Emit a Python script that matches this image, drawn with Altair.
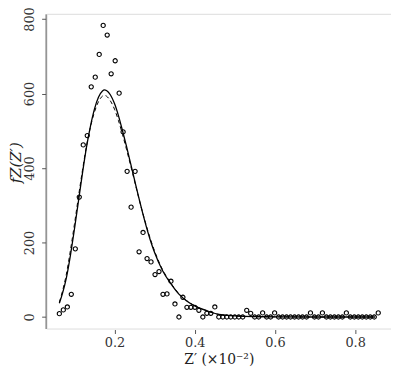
import altair as alt
import pandas as pd

# Observed (binned) values
z_obs = [0.0625, 0.0724, 0.0824, 0.0923, 0.1023, 0.1122, 0.1221, 0.1321, 0.1420, 0.1520,
         0.1619, 0.1718, 0.1818, 0.1917, 0.2017, 0.2116, 0.2215, 0.2315, 0.2414, 0.2514,
         0.2613, 0.2712, 0.2812, 0.2911, 0.3011, 0.3110, 0.3209, 0.3309, 0.3408, 0.3508,
         0.3607, 0.3706, 0.3806, 0.3905, 0.4005, 0.4104, 0.4203, 0.4303, 0.4402, 0.4502,
         0.4601, 0.4700, 0.4800, 0.4899, 0.4999, 0.5098, 0.5197, 0.5297, 0.5396, 0.5496,
         0.5595, 0.5694, 0.5794, 0.5893, 0.5993, 0.6092, 0.6191, 0.6291, 0.6390, 0.6490,
         0.6589, 0.6688, 0.6788, 0.6887, 0.6987, 0.7086, 0.7185, 0.7285, 0.7384, 0.7484,
         0.7583, 0.7682, 0.7782, 0.7881, 0.7981, 0.8080, 0.8179, 0.8279, 0.8378, 0.8478,
         0.8577]
f_obs = [9, 19, 27, 61, 183, 322, 462, 487, 618, 644,
         705, 783, 757, 653, 688, 601, 497, 391, 295, 391,
         175, 227, 157, 148, 114, 122, 61, 62, 96, 35,
         0, 53, 26, 26, 26, 18, 0, 10, 10, 27,
         0, 0, 0, 0, 0, 0, 0, 18, 10, 0,
         0, 11, 0, 0, 11, 0, 0, 0, 0, 0,
         0, 0, 0, 11, 0, 0, 11, 0, 0, 0,
         0, 0, 11, 0, 0, 0, 0, 0, 0, 0,
         11]

# Fitted curves
z_fit = [0.0625, 0.07, 0.08, 0.09, 0.10, 0.11, 0.12, 0.13, 0.14, 0.15, 0.16, 0.17, 0.175,
         0.18, 0.19, 0.20, 0.21, 0.22, 0.23, 0.24, 0.25, 0.26, 0.27, 0.28, 0.29, 0.30,
         0.32, 0.34, 0.36, 0.38, 0.40, 0.43, 0.46, 0.50, 0.55, 0.60, 0.70, 0.85]
f_solid = [37, 62, 105, 165, 235, 310, 385, 455, 512, 558, 590, 607, 610,
           608, 596, 573, 540, 500, 458, 413, 368, 323, 280, 240, 204, 173,
           124, 90, 62, 43, 30, 17, 7, 3, 1, 0.5, 0, 0]
f_dashed = [40, 68, 115, 178, 248, 322, 393, 458, 510, 550, 578, 593, 595,
            593, 580, 558, 527, 490, 450, 408, 365, 322, 281, 243, 208, 177,
            127, 92, 63, 44, 30, 17, 7, 3, 1, 0.5, 0, 0]

obs = pd.DataFrame({"z": z_obs, "f": f_obs})
fit = pd.DataFrame({"z": z_fit + z_fit,
                    "f": f_solid + f_dashed,
                    "kind": ["solid"] * len(z_fit) + ["dashed"] * len(z_fit)})

FONT = "DejaVu Serif"
xs = alt.Scale(domain=[0.0307, 0.8895], nice=False, zero=False)
ys = alt.Scale(domain=[-31, 814], nice=False, zero=False)

xaxis = alt.Axis(values=[0.2, 0.4, 0.6, 0.8], format=".1f", domain=False, grid=False,
                 tickSize=4, tickColor="#555", offset=1, labelFont=FONT, labelFontSize=13,
                 labelColor="#333", labelPadding=3,
                 title="Z′ (×10⁻²)", titleFont=FONT, titleFontSize=14,
                 titleFontWeight="normal", titleColor="#222", titlePadding=3)
yaxis = alt.Axis(values=[0, 200, 400, 600, 800], format="d", grid=False, domain=True,
                 domainColor="#555", tickColor="#555", tickSize=4, offset=1,
                 labelAngle=-90, labelAlign="center", labelBaseline="bottom",
                 labelFont=FONT, labelFontSize=13, labelColor="#333", labelPadding=5,
                 title="fZ(Z′)", titleFont=FONT, titleFontSize=15, titleFontStyle="italic",
                 titleFontWeight="normal", titleColor="#222",
                 titleAngle=-90, titleAlign="center", titleBaseline="bottom",
                 titleX=-22, titleY=150)

points = alt.Chart(obs).mark_point(shape="circle", filled=False, color="black",
                                   size=18, strokeWidth=1.1, opacity=1).encode(
    x=alt.X("z:Q", scale=xs, axis=xaxis),
    y=alt.Y("f:Q", scale=ys, axis=yaxis),
)

solid = alt.Chart(fit).transform_filter(alt.datum.kind == "solid").mark_line(
    color="black", strokeWidth=1.3, interpolate="monotone").encode(
    x=alt.X("z:Q", scale=xs), y=alt.Y("f:Q", scale=ys))

dashed = alt.Chart(fit).transform_filter(alt.datum.kind == "dashed").mark_line(
    color="black", strokeWidth=1, strokeDash=[4, 3], interpolate="monotone").encode(
    x=alt.X("z:Q", scale=xs), y=alt.Y("f:Q", scale=ys))

chart = alt.layer(dashed, solid, points).properties(
    width=348, height=318,
    autosize=alt.AutoSizeParams(type="none"),
    padding={"left": 39, "top": 4, "right": 0, "bottom": 40},
).configure_view(stroke=None).configure(background="white")

chart.save("out.html", embed_options={"renderer": "svg", "actions": False})
